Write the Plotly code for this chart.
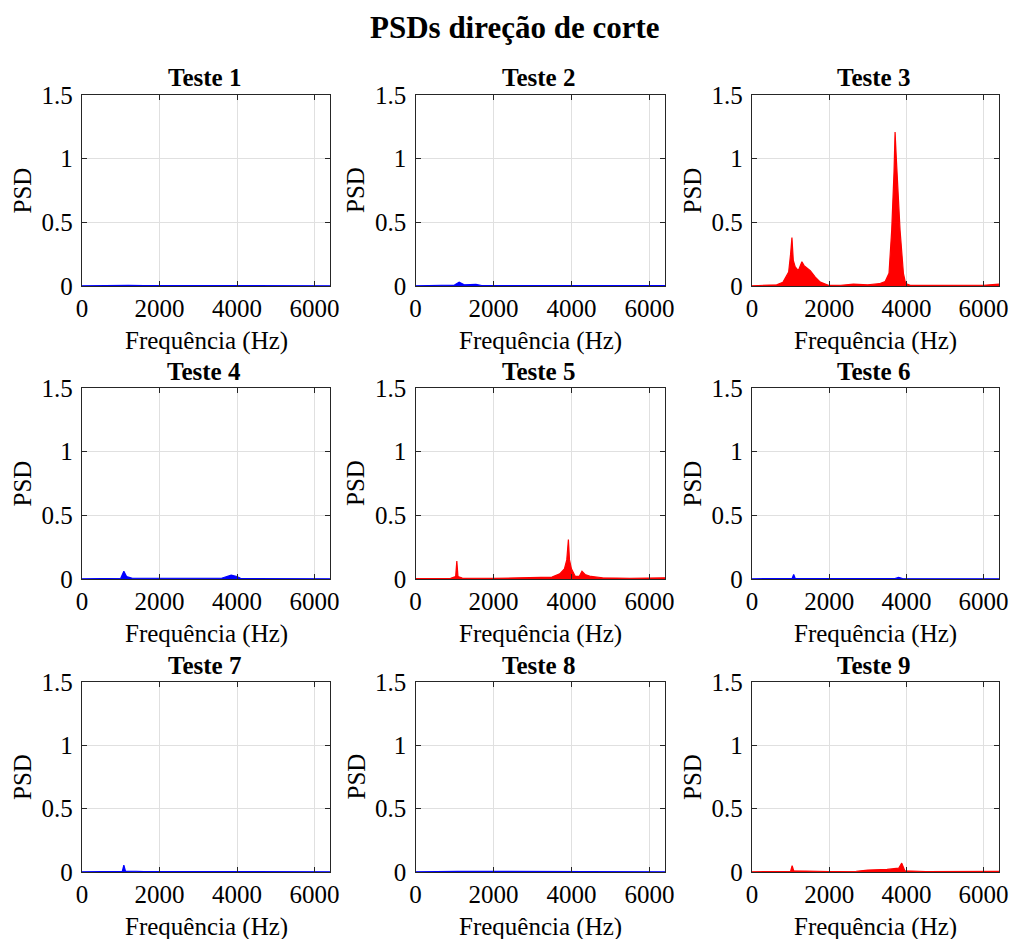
import plotly.graph_objects as go

# ---- data ----
titles = ["Teste 1", "Teste 2", "Teste 3", "Teste 4", "Teste 5", "Teste 6", "Teste 7", "Teste 8", "Teste 9"]
colors = ["blue", "blue", "red", "blue", "red", "blue", "blue", "blue", "red"]

f1 = [0, 1000, 1100, 1200, 1600, 3800, 6400]
p1 = [0.002, 0.004, 0.01, 0.005, 0.003, 0.004, 0.002]

f2 = [0, 1000, 1120, 1250, 1550, 1700, 4000, 6400]
p2 = [0.002, 0.008, 0.03, 0.01, 0.012, 0.004, 0.003, 0.003]

f3 = [0, 640, 800, 950, 1000, 1035, 1070, 1120, 1200, 1250, 1293, 1350, 1420, 1510, 1640, 1770, 1980,
      2300, 2630, 3000, 3300, 3450, 3550, 3620, 3680, 3707, 3740, 3768, 3836, 3923, 3980, 4100,
      5000, 6000, 6400]
p3 = [0.002, 0.01, 0.03, 0.11, 0.25, 0.38, 0.2, 0.15, 0.12, 0.16, 0.19, 0.16, 0.14, 0.12, 0.07, 0.03, 0.005,
      0.006, 0.014, 0.01, 0.018, 0.035, 0.1, 0.44, 0.9, 1.21, 1.0, 0.83, 0.44, 0.1, 0.02, 0.005,
      0.003, 0.006, 0.015]

f4 = [0, 1000, 1080, 1150, 1300, 3600, 3850, 4000, 4100, 6400]
p4 = [0.002, 0.006, 0.06, 0.02, 0.006, 0.006, 0.03, 0.02, 0.004, 0.002]

f5 = [0, 900, 1030, 1060, 1090, 1200, 2000, 3000, 3500, 3700, 3820, 3880, 3922, 3950, 4000, 4100,
      4200, 4270, 4350, 4500, 4800, 5500, 6400]
p5 = [0.003, 0.005, 0.02, 0.14, 0.02, 0.008, 0.005, 0.008, 0.015, 0.04, 0.08, 0.15, 0.31, 0.15, 0.08, 0.02,
      0.02, 0.06, 0.035, 0.02, 0.01, 0.006, 0.01]

f6 = [0, 1040, 1080, 1120, 3700, 3800, 3900, 6400]
p6 = [0.002, 0.005, 0.035, 0.005, 0.004, 0.012, 0.004, 0.002]

f7 = [0, 1040, 1080, 1120, 1400, 1600, 3800, 6400]
p7 = [0.002, 0.005, 0.055, 0.008, 0.006, 0.003, 0.004, 0.002]

f8 = [0, 1080, 6400]
p8 = [0.002, 0.005, 0.002]

f9 = [0, 1000, 1040, 1080, 2000, 2700, 3000, 3500, 3800, 3880, 3920, 3960, 4500, 6000, 6400]
p9 = [0.002, 0.005, 0.05, 0.01, 0.004, 0.006, 0.015, 0.02, 0.03, 0.07, 0.04, 0.01, 0.004, 0.006, 0.005]

freqs = [f1, f2, f3, f4, f5, f6, f7, f8, f9]
psds = [p1, p2, p3, p4, p5, p6, p7, p8, p9]

x_ticks = [0, 2000, 4000, 6000]
y_ticks = [0, 0.5, 1, 1.5]
y_tick_text = ["0", "0.5", "1", "1.5"]
x_range = [0, 6400]
y_range = [0, 1.5]

main_title = "PSDs direção de corte"
x_label = "Frequência (Hz)"
y_label = "PSD"

# ---- layout geometry (pixels) ----
W, H = 1011, 939
col_px = [(82, 330), (415.5, 665), (752, 999)]
row_px = [(95, 286), (388, 579), (682, 872)]
FONT = "Liberation Serif"
FS = 25
line_col = {"blue": "#0000ff", "red": "#ff0000"}

fig = go.Figure()
layout = dict(
    width=W, height=H, margin=dict(l=0, r=0, t=0, b=0, pad=0),
    paper_bgcolor="white", plot_bgcolor="white", showlegend=False,
    font=dict(family=FONT, size=FS, color="black"),
)
annotations = []
for i in range(9):
    r, c = divmod(i, 3)
    n = "" if i == 0 else str(i + 1)
    x0, x1 = col_px[c]
    y0, y1 = row_px[r]
    fig.add_trace(go.Scatter(
        x=freqs[i], y=psds[i], mode="lines", fill="tozeroy",
        line=dict(color=line_col[colors[i]], width=1.2),
        fillcolor=line_col[colors[i]],
        xaxis="x" + n, yaxis="y" + n, hoverinfo="skip"))
    common = dict(showline=True, mirror="allticks", linecolor="#262626", linewidth=1.3,
                  ticks="inside", ticklen=5, tickcolor="#262626", automargin=False,
                  showgrid=True, gridcolor="#e0e0e0", gridwidth=1, zeroline=False,
                  tickfont=dict(family=FONT, size=FS, color="black"))
    layout["xaxis" + n] = dict(common, domain=[x0 / W, x1 / W], range=x_range,
                               tickvals=x_ticks, ticktext=[str(t) for t in x_ticks],
                               anchor="y" + n)
    layout["yaxis" + n] = dict(common, domain=[1 - y1 / H, 1 - y0 / H], range=y_range,
                               tickvals=y_ticks, ticktext=y_tick_text,
                               ticklabelstandoff=3, anchor="x" + n)
    cx = (x0 + x1) / 2 / W
    annotations.append(dict(text="<b>" + titles[i] + "</b>", x=cx - 2 / W, y=1 - (y0 - 17) / H,
                            xref="paper", yref="paper", showarrow=False,
                            font=dict(family=FONT, size=FS, color="black"),
                            xanchor="center", yanchor="middle"))
    annotations.append(dict(text=x_label, x=cx, y=1 - (y1 + 55) / H,
                            xref="paper", yref="paper", showarrow=False,
                            font=dict(family=FONT, size=FS, color="black"),
                            xanchor="center", yanchor="middle"))
    annotations.append(dict(text=y_label, x=(x0 - 60) / W, y=1 - (y0 + y1) / 2 / H,
                            xref="paper", yref="paper", showarrow=False, textangle=-90,
                            font=dict(family=FONT, size=FS, color="black"),
                            xanchor="center", yanchor="middle"))

annotations.append(dict(text="<b>" + main_title + "</b>", x=514.5 / W, y=1 - 28 / H,
                        xref="paper", yref="paper", showarrow=False,
                        font=dict(family=FONT, size=31, color="black"),
                        xanchor="center", yanchor="middle"))
layout["annotations"] = annotations
fig.update_layout(**layout)
fig.write_html("out.html",
               post_script="document.body.style.margin='0';document.body.style.overflow='hidden';")
